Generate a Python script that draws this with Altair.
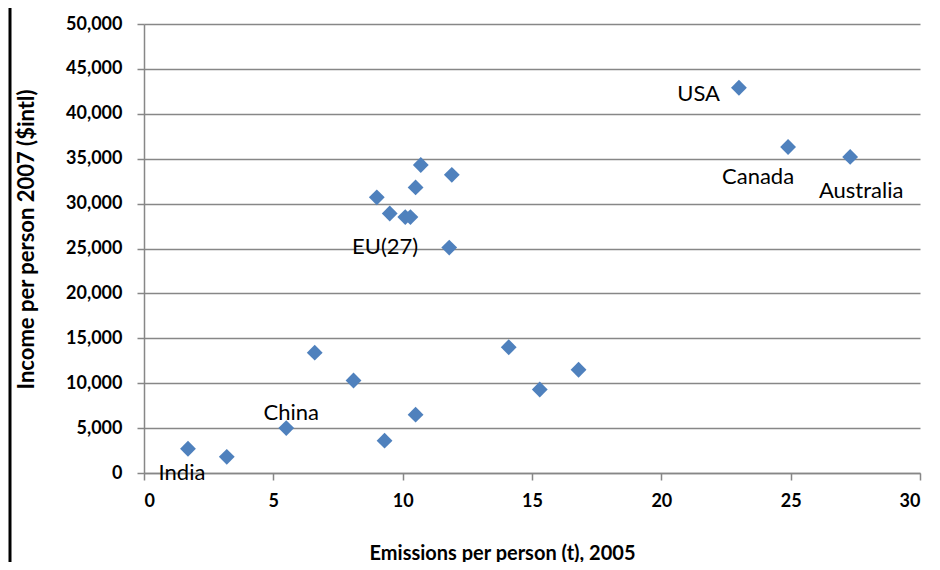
import altair as alt
import pandas as pd

# Data
emissions = [1.7, 3.2, 5.5, 6.6, 8.1, 9.3, 10.5, 9.0, 9.5, 10.1, 10.3, 10.5, 10.7, 11.9, 11.8, 14.1, 15.3, 16.8, 23.0, 24.9, 27.3]
income = [2700, 1800, 5000, 13400, 10300, 3600, 6500, 30700, 28900, 28500, 28500, 31800, 34300, 33200, 25100, 14000, 9300, 11500, 42900, 36300, 35200]
names = ["India", "", "China", "", "", "", "", "", "", "", "", "", "", "", "EU(27)", "", "", "", "USA", "Canada", "Australia"]

x_ticks = [0, 5, 10, 15, 20, 25, 30]
y_ticks = [0, 5000, 10000, 15000, 20000, 25000, 30000, 35000, 40000, 45000, 50000]

df = pd.DataFrame({"emissions": emissions, "income": income, "name": names})

FONT = "Lato"
GRID = "#878787"

xscale = alt.Scale(domain=[0, 30], nice=False, zero=True)
yscale = alt.Scale(domain=[0, 50000], nice=False)

base = alt.Chart(df)

points = base.mark_point(shape="diamond", filled=True, size=250, color="#4F81BD", opacity=1).encode(
    x=alt.X("emissions:Q", scale=xscale,
            axis=alt.Axis(values=x_ticks, format="d", title="Emissions  per person (t), 2005", grid=False,
                          tickSize=7, labelPadding=12, titleX=358, titleY=80, titleFontSize=20,
                          titleBaseline="middle", titleAlign="center")),
    y=alt.Y("income:Q", scale=yscale,
            axis=alt.Axis(values=y_ticks, format=",.0f", title="Income per person 2007 ($intl)",
                          tickSize=7, labelPadding=15, titleX=-118, titleY=215, titleFontSize=22,
                          titleBaseline="middle", titleAlign="center", titleAngle=-90)),
)

# label layers: (name, align, dx, dy)
label_specs = [
    ("USA", "right", -19, 6),
    ("Canada", "center", -30, 30),
    ("Australia", "center", 11, 34),
    ("EU(27)", "right", -31, -1),
    ("China", "center", 5, -15),
    ("India", "center", -6, 24),
]

labels = []
for nm, al, dx, dy in label_specs:
    labels.append(
        base.transform_filter(alt.datum.name == nm)
        .mark_text(align=al, baseline="middle", dx=dx, dy=dy, font=FONT, fontSize=22, color="#000000")
        .encode(x="emissions:Q", y="income:Q", text="name:N")
    )

# outer frame fragment (decorative)
frame_left = alt.Chart(pd.DataFrame({"a": [0]})).mark_rule(color="#000000", strokeWidth=3, clip=False).encode(
    x=alt.value(-134), y=alt.value(-16), y2=alt.value(546)
)

chart = alt.layer(points, *labels, frame_left).properties(
    width=776, height=449,
    autosize=alt.AutoSizeParams(type="none"),
    padding={"left": 136, "top": 16, "right": 12, "bottom": 89},
).configure_view(stroke=None).configure_axis(
    labelFont=FONT, titleFont=FONT, labelFontWeight="bold", titleFontWeight="bold",
    labelFontSize=18, labelColor="#000000", titleColor="#000000",
    gridColor=GRID, gridWidth=1.5, gridOpacity=1, domainColor=GRID, domainWidth=1.5,
    tickColor=GRID, tickWidth=1.5,
)

chart.save("out.html", embed_options={"renderer": "svg", "actions": False})
